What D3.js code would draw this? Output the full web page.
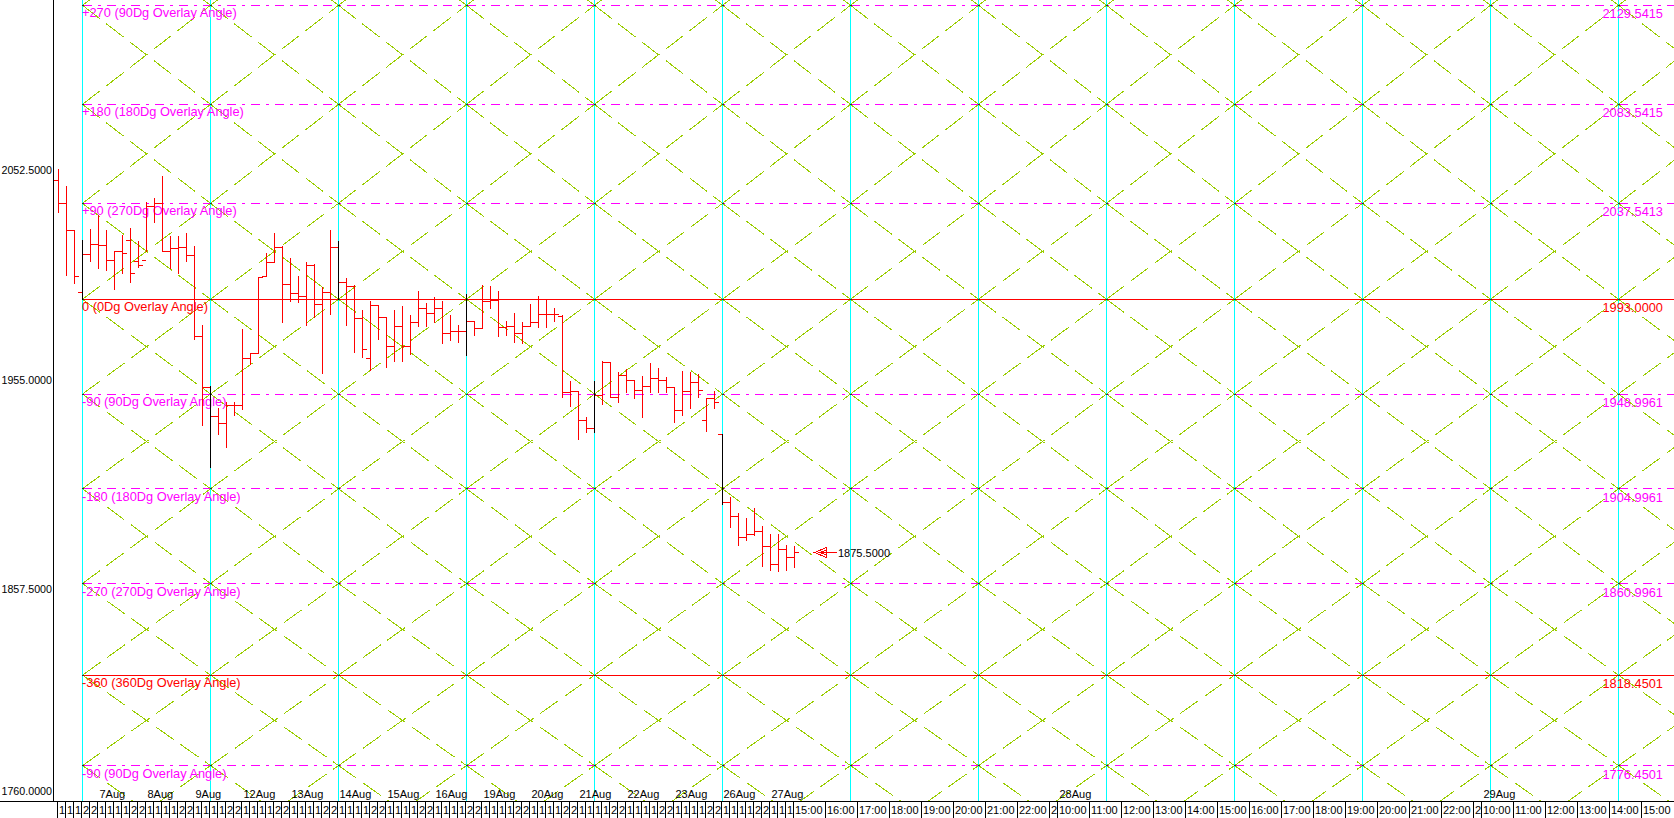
<!DOCTYPE html>
<html><head><meta charset="utf-8">
<script src="https://cdn.jsdelivr.net/npm/d3@7"></script>
<style>
html,body{margin:0;padding:0;background:#fff;overflow:hidden}
svg{display:block}
text{font-family:"Liberation Sans",Arial,sans-serif}
</style></head><body>
<svg id="chart" width="1674" height="818"></svg>
<script>
// ---------------- DATA ----------------
const firstDayHours = ["11:00","14:00","15:00","22:00","23:00"];   // tail of 6Aug
const sessionHours  = ["10:00","11:00","14:00","15:00","22:00","23:00"];
const dayLabels = ["7Aug","8Aug","9Aug","12Aug","13Aug","14Aug","15Aug","16Aug","19Aug","20Aug","21Aug","22Aug","23Aug","26Aug","27Aug"];
const futureDayLabels = ["28Aug","29Aug"];
const futureHoursToday = ["16:00","17:00","18:00","19:00","20:00","21:00","22:00","23:00"];
const futureHoursFull  = ["10:00","11:00","12:00","13:00","14:00","15:00","16:00","17:00","18:00","19:00","20:00","21:00","22:00","23:00"];
const futureHoursLast  = ["10:00","11:00","12:00","13:00","14:00","15:00"];

const barOpen = [2048,2037.5,2025,1996,2014,2018.5,2018,2011,2015,2020.5,2010.5,2011,2036,2037.5,2015,2016.5,2017,2013.5,1975.5,1952,
 1938.5,1935.5,1943.5,1943.5,1965.5,1968,2003.5,2010,2017,2000,1995.5,1994.5,2008.5,1990.5,1996,2017,2001,1999,1984,1965.5,
 1990,1984.5,1971,1980.5,1971,1982,1988.5,1986.5,1988.5,1977,1978,1978,1982.5,1979.5,1992,1992.5,1980,1980.5,1977,1980.5,
 1982,1986,1986,1985,1949.5,1950,1936.5,1933,1948.5,1963.5,1947.5,1957.5,1955.5,1950.5,1952.5,1956,1955.5,1952,1941.5,1950,
 1954.5,1936.5,1947,1930,1898.5,1892,1882.5,1884,1885,1878,1870,1877,1873];
const barHigh = [2053.5,2045.5,2025,2020.5,2025.5,2032,2025,2015,2022.5,2026,2020,2038,2040,2050,2022,2022,2023.5,2017.5,1981,1952.5,
 1942.5,1945,1945,1979,1968,2003,2014.5,2023.5,2017.5,2012,2003.5,2010,2009,1998.5,2025,2020,2002.5,1999.5,1988,1992,
 1990,1984.5,1988,1989.5,1985.5,1996.5,1991,1994,1992,1985.5,1981,1995,1982.5,1999.5,1999,1996.5,1982.5,1986.5,1982,1990.5,
 1994.5,1993,1988.5,1985.5,1955,1950,1938,1955,1964,1963.5,1959,1960.5,1955.5,1957,1963,1961,1956.5,1952,1959.5,1959,
 1958,1947,1950,1930,1901,1893.5,1891,1896,1887.5,1884,1884,1878.5,1878];
const barLow = [2033.5,2004,2000.5,1993,2010.5,2007.5,2006.5,1997.5,2005,2001,2008,2015,2028.5,2015,2007.5,2005,2010.5,1974.5,1934.5,1915,
 1930,1924,1939,1942,1962.5,1968,2003.5,2010,1982,1992,1991.5,1981,1984.5,1958.5,1986,1993,1981,1968.5,1966,1960,
 1974.5,1961.5,1964,1964,1967.5,1980.5,1980.5,1982,1972.5,1974,1973,1967,1976,1979.5,1988.5,1975.5,1976,1973,1972.5,1980.5,
 1980,1980,1982.5,1947.5,1943,1928,1931,1931,1944,1947.5,1945,1949.5,1947,1938,1949.5,1949.5,1949.5,1936,1939,1942.5,
 1947.5,1931.5,1942.5,1897.5,1887,1878.5,1881,1883.5,1869,1867,1866.5,1867,1868.5];
const barClose = [2037.5,2025,2003.5,2014,2018.5,2018,2011,2015,2014.5,2005,2008.5,2036,2037.5,2015,2016.5,2017,2013.5,1975.5,1952,1938.5,
 1935.5,1943.5,1943.5,1965.5,1968,2003,2010,2017,2000,1995.5,1994.5,2008.5,1990.5,1996,2017,2001,1999,1984,1969.5,1990,
 1984.5,1971,1980.5,1971,1982,1988.5,1986.5,1988.5,1977,1978,1978,1982.5,1979.5,1992,1992.5,1980,1980.5,1977,1980.5,1982,
 1986,1986,1986,1949.5,1950,1936.5,1933,1948.5,1963.5,1947.5,1957.5,1955.5,1950.5,1952.5,1956,1955.5,1952,1941.5,1950,1954.5,
 1950.5,1947,1945,1898.5,1892,1882.5,1884,1885,1878,1870,1877,1873,1875.5];

const overlayLabels = ["+270 (90Dg Overlay Angle)","+180 (180Dg Overlay Angle)","+90 (270Dg Overlay Angle)","0 (0Dg Overlay Angle)",
 "-90 (90Dg Overlay Angle)","-180 (180Dg Overlay Angle)","-270 (270Dg Overlay Angle)","-360 (360Dg Overlay Angle)","-90 (90Dg Overlay Angle)"];
const overlayValues = [2129.5415,2083.5415,2037.5413,1993.0000,1948.9961,1904.9961,1860.9961,1818.4501,1776.4501];
const yTickValues = [1760, 1857.5, 1955, 2052.5];
const lastPrice = 1875.5;

// ---------------- SETUP ----------------
const W = 1674, H = 818, plotBottom = 801, axisX = 53;
const svg = d3.select("#chart");
svg.append("rect").attr("width",W).attr("height",H).attr("fill","#fff");

const nBars = barClose.length;
const xScale = d3.scaleLinear().domain([0, 202]).range([58.5, 58.5 + 8*202]);
const yScale = d3.scaleLinear().domain([1760, 2132]).range([plotBottom, 0]);
const gridStart = 3, gridStep = 16;

// time labels for the bars
const barHour = [], barDay = [];
firstDayHours.forEach(h => { barHour.push(h); barDay.push(null); });
dayLabels.forEach(d => sessionHours.forEach((h, k) => {
  if (barHour.length < nBars) { barHour.push(h); barDay.push(k === 0 ? d : null); }
}));
const ticks = barHour.map((h, i) => ({slot: i, label: h, day: barDay[i]}));
let slot = nBars - 1, prev = barHour[nBars - 1];
function addFuture(list, day) {
  list.forEach((h, k) => {
    slot += (prev === "23:00") ? 1 : 4;
    ticks.push({slot, label: h, day: (k === 0 ? day : null)});
    prev = h;
  });
}
addFuture(futureHoursToday, null);
addFuture(futureHoursFull, futureDayLabels[0]);
addFuture(futureHoursLast, futureDayLabels[1]);

// ---------------- CLIPS ----------------
const defs = svg.append("defs");
defs.append("clipPath").attr("id","gridClip").append("rect")
  .attr("x", xScale(gridStart)).attr("y",0).attr("width", W - xScale(gridStart)).attr("height", plotBottom);

// ---------------- DIAGONAL GRID ----------------
const nO = overlayValues.length;
const levels = [overlayValues[0] + (overlayValues[0]-overlayValues[1])].concat(overlayValues,
  [overlayValues[nO-1] - (overlayValues[nO-2]-overlayValues[nO-1])]);
const cols = d3.range(gridStart, 202 + gridStep, gridStep);
const gDiag = svg.append("g").attr("clip-path","url(#gridClip)").attr("shape-rendering","crispEdges");
for (let r = 0; r < levels.length - 1; r++) {
  for (let c = 0; c < cols.length - 1; c++) {
    const x0 = xScale(cols[c]), x1 = xScale(cols[c+1]);
    const ya = yScale(levels[r]), yb = yScale(levels[r+1]);
    [[x0, ya, x1, yb], [x0, yb, x1, ya]].forEach(s => {
      gDiag.append("line").attr("x1", s[0]).attr("y1", s[1]).attr("x2", s[2]).attr("y2", s[3])
        .attr("stroke", "#9acd00").attr("stroke-width", 1).attr("stroke-dasharray", "22,8");
    });
  }
}

// ---------------- CYAN VERTICALS ----------------
const gV = svg.append("g").attr("shape-rendering","crispEdges");
cols.filter(c => xScale(c) < W).forEach(c => {
  gV.append("line").attr("x1", xScale(c)).attr("x2", xScale(c)).attr("y1", 0).attr("y2", plotBottom)
    .attr("stroke", "#00ffff").attr("stroke-width", 1);
});

// ---------------- OVERLAY HORIZONTALS ----------------
const isMajor = lbl => /\((0|360)Dg/.test(lbl);
const gH = svg.append("g").attr("shape-rendering","crispEdges");
overlayValues.forEach((v, k) => {
  const y = Math.floor(yScale(v)) + 0.5;
  const major = isMajor(overlayLabels[k]);
  gH.append("line").attr("x1", xScale(gridStart)).attr("x2", W).attr("y1", y).attr("y2", y)
    .attr("stroke", major ? "#ff0000" : "#ff00ff").attr("stroke-width", 1)
    .attr("stroke-dasharray", major ? null : "9,6,3,6");
});
overlayValues.forEach(v => {
  cols.filter(c => xScale(c) < W).forEach(c => {
    gH.append("rect").attr("x", xScale(c) - 1).attr("y", Math.floor(yScale(v)))
      .attr("width", 2).attr("height", 1).attr("fill", "#333");
  });
});

const gL = svg.append("g");
overlayValues.forEach((v, k) => {
  const y = yScale(v);
  const col = isMajor(overlayLabels[k]) ? "#ff0000" : "#ff00ff";
  gL.append("text").attr("x", xScale(gridStart) - 0.5).attr("y", y + 12)
    .attr("font-size", "12.8px").attr("fill", col).text(overlayLabels[k]);
  gL.append("text").attr("x", 1663).attr("y", y + 13).attr("text-anchor", "end")
    .attr("font-size", "12.8px").attr("fill", col).text(d3.format(".4f")(v));
});

// ---------------- BARS ----------------
const gB = svg.append("g").attr("shape-rendering","crispEdges");
barClose.forEach((c, i) => {
  const x = xScale(i);
  const yh = Math.floor(yScale(barHigh[i])), yl = Math.floor(yScale(barLow[i])) + 1;
  const yo = Math.floor(yScale(barOpen[i])) + 0.5, yc = Math.floor(yScale(c)) + 0.5;
  const onGrid = (i - gridStart) % gridStep === 0;
  gB.append("line").attr("x1", x).attr("x2", x).attr("y1", yh).attr("y2", yl)
    .attr("stroke", onGrid ? "#000" : "#ff0000").attr("stroke-width", 1);
  gB.append("line").attr("x1", x - 4.5).attr("x2", x - 0.5).attr("y1", yo).attr("y2", yo)
    .attr("stroke", "#ff0000").attr("stroke-width", 1);
  gB.append("line").attr("x1", x + 0.5).attr("x2", x + 4.5).attr("y1", yc).attr("y2", yc)
    .attr("stroke", "#ff0000").attr("stroke-width", 1);
});

// last price marker
{
  const tx = xScale(nBars - 1 + 2.5), ty = Math.floor(yScale(lastPrice)) + 0.5;
  const gM = svg.append("g").attr("shape-rendering","crispEdges");
  gM.append("path").attr("d", `M${tx},${ty}L${tx+12},${ty-5}L${tx+12},${ty+5}Z`)
    .attr("fill","none").attr("stroke","#ff0000").attr("stroke-width",1);
  gM.append("path").attr("d", `M${tx+12},${ty-2.5}L${tx+5},${ty}L${tx+12},${ty+2.5}`)
    .attr("fill","none").attr("stroke","#ff0000").attr("stroke-width",1);
  gM.append("line").attr("x1", tx + 5).attr("x2", tx + 22).attr("y1", ty).attr("y2", ty)
    .attr("stroke","#ff0000").attr("stroke-width",1);
  svg.append("text").attr("x", tx + 23.5).attr("y", ty + 4).attr("font-size","11px").attr("fill","#000")
    .text(d3.format(".4f")(lastPrice));
}

// ---------------- AXES ----------------
const gA = svg.append("g").attr("shape-rendering","crispEdges");
gA.append("line").attr("x1", axisX + 0.5).attr("x2", axisX + 0.5).attr("y1", 0).attr("y2", plotBottom)
  .attr("stroke","#000");
gA.append("line").attr("x1", 0).attr("x2", W).attr("y1", plotBottom + 0.5).attr("y2", plotBottom + 0.5)
  .attr("stroke","#000");

yTickValues.forEach(v => {
  svg.append("text").attr("x", 52).attr("y", Math.min(yScale(v) + 2.4, 795))
    .attr("text-anchor","end").attr("font-size","10.7px").attr("fill","#000")
    .text(d3.format(".4f")(v));
});

// x ticks & labels (labels shortened to what fits in their cell, as the original does)
const measure = svg.append("text").attr("font-size","11px").attr("x",-100).attr("y",-100);
function fitText(str, width) {
  for (let n = str.length; n > 0; n--) {
    measure.text(str.slice(0, n));
    if (measure.node().getComputedTextLength() <= width) return str.slice(0, n);
  }
  return str.slice(0, 1);
}
ticks.forEach((t, k) => {
  const tx = xScale(t.slot) - 1;
  if (tx > W) return;
  gA.append("line").attr("x1", tx).attr("x2", tx).attr("y1", plotBottom + 1).attr("y2", H).attr("stroke","#000");
  const next = k < ticks.length - 1 ? xScale(ticks[k+1].slot) - 1 : W;
  const avail = next - tx - 1;
  svg.append("text").attr("x", tx + 1.5).attr("y", 814).attr("font-size","11px").attr("fill","#000")
    .text(fitText(t.label, avail));
  if (t.day) {
    svg.append("text").attr("x", tx + 2).attr("y", 798).attr("font-size","11px").attr("fill","#000").text(t.day);
  }
});
measure.remove();
</script>
</body></html>
